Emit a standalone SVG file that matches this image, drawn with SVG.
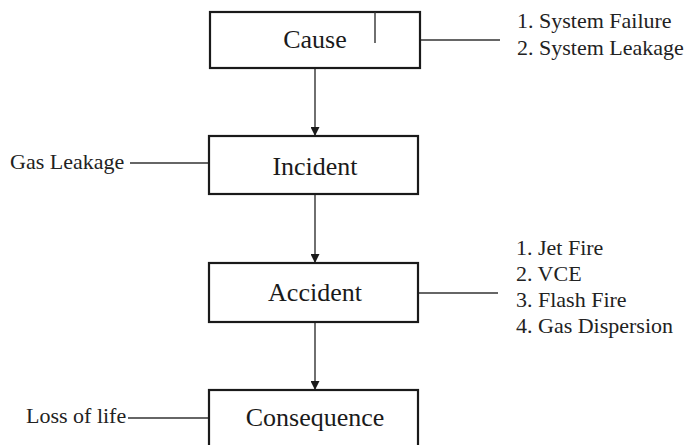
<svg xmlns="http://www.w3.org/2000/svg" width="691" height="445" viewBox="0 0 691 445">
  <style>
    .box { fill: #fff; stroke: #1a1a1a; stroke-width: 2.2; }
    .lbl { font-size: 26px; fill: #1a1a1a; text-anchor: middle; }
    .side { font-size: 22px; fill: #222; }
    .wire { stroke: #333; stroke-width: 1.4; fill: none; }
  </style>
  <defs>
    <marker id="arrow" viewBox="0 0 10 10" refX="10" refY="5" markerWidth="9" markerHeight="9" markerUnits="userSpaceOnUse" orient="auto">
      <path d="M0,0 L10,5 L0,10 z" fill="#1a1a1a"/>
    </marker>
  </defs>
  <rect width="691" height="445" fill="#fff"/>

  <g id="connectors">
    <line class="wire" x1="315" y1="68" x2="315" y2="136" marker-end="url(#arrow)"/>
    <line class="wire" x1="315" y1="194" x2="315" y2="263" marker-end="url(#arrow)"/>
    <line class="wire" x1="315" y1="322" x2="315" y2="390" marker-end="url(#arrow)"/>
    <line class="wire" x1="420" y1="40" x2="500" y2="40"/>
    <line class="wire" x1="130" y1="163" x2="209" y2="163"/>
    <line class="wire" x1="418" y1="293" x2="498" y2="293"/>
    <line class="wire" x1="128" y1="418" x2="209" y2="418"/>
  </g>

  <g font-family="'Liberation Serif', 'DejaVu Serif', 'Times New Roman', serif">
    <g id="cause">
      <rect class="box" x="210" y="12" width="210" height="56"/>
      <line class="wire" x1="375" y1="12" x2="375" y2="43"/>
      <text class="lbl" x="315" y="48">Cause</text>
    </g>
    <g id="cause-notes">
      <text class="side" x="517" y="28">1. System Failure</text>
      <text class="side" x="517" y="55">2. System Leakage</text>
    </g>

    <g id="incident">
      <rect class="box" x="209" y="136" width="209" height="58"/>
      <text class="lbl" x="315" y="175">Incident</text>
    </g>
    <g id="incident-note">
      <text class="side" x="10" y="169">Gas Leakage</text>
    </g>

    <g id="accident">
      <rect class="box" x="209" y="263" width="209" height="59"/>
      <text class="lbl" x="315" y="301">Accident</text>
    </g>
    <g id="accident-notes">
      <text class="side" x="516" y="255">1. Jet Fire</text>
      <text class="side" x="516" y="281">2. VCE</text>
      <text class="side" x="516" y="307">3. Flash Fire</text>
      <text class="side" x="516" y="333">4. Gas Dispersion</text>
    </g>

    <g id="consequence">
      <rect class="box" x="209" y="390" width="209" height="70"/>
      <text class="lbl" x="315" y="426">Consequence</text>
    </g>
    <g id="consequence-note">
      <text class="side" x="26" y="423">Loss of life</text>
    </g>
  </g>
</svg>
